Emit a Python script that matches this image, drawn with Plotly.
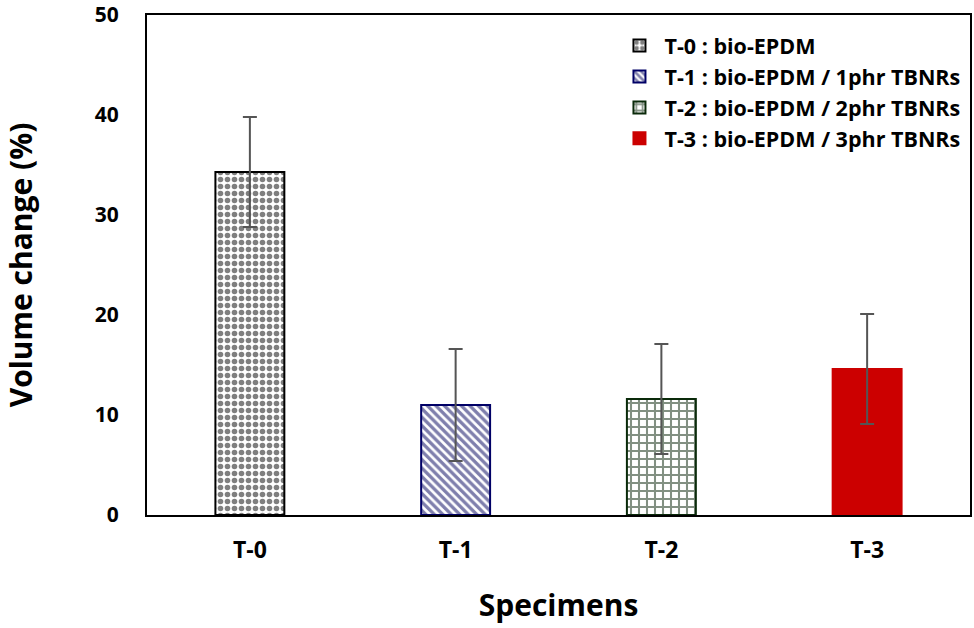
import plotly.graph_objects as go

categories = ["T-0", "T-1", "T-2", "T-3"]
values = [34.3, 11.0, 11.6, 14.6]
errors = [5.5, 5.6, 5.5, 5.5]
legend_names = [
    "T-0 : bio-EPDM",
    "T-1 : bio-EPDM / 1phr TBNRs",
    "T-2 : bio-EPDM / 2phr TBNRs",
    "T-3 : bio-EPDM / 3phr TBNRs",
]
line_colors = ["#000000", "#000066", "#0a2a0a", "#cc0000"]
fill_colors = ["#ffffff", "#ffffff", "#ffffff", "#cc0000"]
pattern_shapes = [".", "\\", "+", ""]
pattern_fg = ["#000000", "#00005a", "#052205", "#cc0000"]
pattern_size = [7, 6, 8, 8]
pattern_solidity = [0.5, 0.55, 0.45, 0.3]

fig = go.Figure()
for i, cat in enumerate(categories):
    fig.add_trace(go.Bar(
        x=[cat], y=[values[i]], name=legend_names[i],
        width=0.335,
        marker=dict(
            color=fill_colors[i],
            line=dict(color=line_colors[i], width=2),
            pattern=dict(shape=pattern_shapes[i], fgcolor=pattern_fg[i],
                         bgcolor=fill_colors[i], size=pattern_size[i],
                         solidity=pattern_solidity[i], fillmode="overlay"),
        ),
        error_y=dict(type="data", array=[errors[i]], color="#555555",
                     thickness=2, width=7),
    ))

font_family = "Open Sans"
fig.update_layout(
    width=974, height=628,
    barmode="overlay",
    plot_bgcolor="white", paper_bgcolor="white",
    margin=dict(l=147, r=4, t=15, b=113),
    font=dict(family=font_family, color="black"),
    showlegend=True,
    legend=dict(x=0.568, y=0.98, xanchor="left", yanchor="top",
                font=dict(size=21.5, family=font_family, weight="bold"),
                bgcolor="rgba(0,0,0,0)", tracegroupgap=0, itemwidth=40),
    xaxis=dict(
        range=[-0.5, 3.5], showline=True, mirror=True, linecolor="black",
        linewidth=2, ticks="", showgrid=False, automargin=False,
        tickfont=dict(size=23, family=font_family, weight="bold"),
        ticklabelstandoff=13, ticklabeloverflow="allow",
        title=dict(text="Specimens", font=dict(size=30, family=font_family, weight="bold"),
                   standoff=31),
    ),
    yaxis=dict(
        range=[0, 50], dtick=10, showline=True, mirror=True, linecolor="black",
        linewidth=2, ticks="", showgrid=False, zeroline=False, automargin=False,
        tickfont=dict(size=21, family=font_family, weight="bold"),
        ticklabelstandoff=22, ticklabeloverflow="allow",
        title=dict(text="Volume change (%)", font=dict(size=30, family=font_family, weight="bold"),
                   standoff=62),
    ),
)

fig.write_html(
    "out.html",
    config={"displayModeBar": False},
    post_script="document.body.style.margin='0';document.body.style.overflow='hidden';",
)
